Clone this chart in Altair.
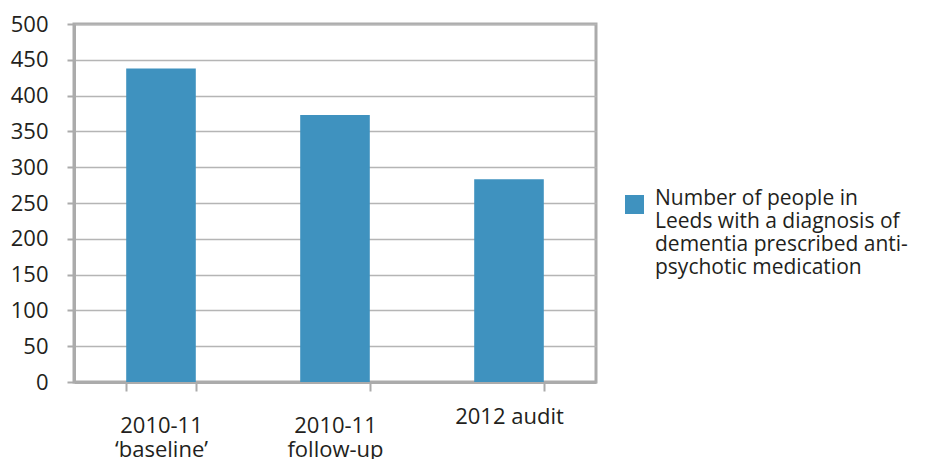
import altair as alt
import pandas as pd

categories = ["2010-11|\u2018baseline\u2019", "2010-11|follow-up", "2012 audit"]
values = [438, 373, 283]
series_name = "Number of people in|Leeds with a diagnosis of|dementia prescribed anti-|psychotic medication"

df = pd.DataFrame({"cat": categories, "val": values, "series": [series_name] * 3})

FONT = "Open Sans"
TXT = "#231F20"
GRAY = "#ABABAB"
BLUE = "#3F92BF"

bars = alt.Chart(df).mark_bar(color=BLUE).encode(
    x=alt.X(
        "cat:N",
        sort=None,
        title=None,
        scale=alt.Scale(paddingInner=0.6, paddingOuter=0.3),
        axis=alt.Axis(
            labelAngle=0,
            labelExpr="split(datum.label, '|')",
            labelBaseline="top",
            labelFont=FONT,
            labelFontSize=22,
            labelColor=TXT,
            labelLineHeight=24,
            labelPadding={"condition": {"test": "datum.label == '2012 audit'", "value": 15}, "value": 24},
            tickBand="extent",
            tickSize=9,
            tickWidth=2,
            tickColor=GRAY,
            domainColor=GRAY,
            domainWidth=3,
            grid=False,
        ),
    ),
    y=alt.Y(
        "val:Q",
        title=None,
        scale=alt.Scale(domain=[0, 500], nice=False),
        axis=alt.Axis(
            values=list(range(0, 501, 50)),
            labelFont=FONT,
            labelFontSize=22,
            labelColor=TXT,
            labelPadding=19,
            tickSize=7,
            tickWidth=2,
            tickColor=GRAY,
            domainColor=GRAY,
            domainWidth=3,
            gridColor="#B5B5B5",
            gridWidth=1.5,
        ),
    ),
    color=alt.Color(
        "series:N",
        scale=alt.Scale(range=[BLUE]),
        legend=alt.Legend(
            title=None,
            orient="none",
            legendX=550,
            legendY=170,
            padding=0,
            symbolType="square",
            symbolSize=361,
            symbolStrokeWidth=0,
            symbolOpacity=1,
            labelExpr="split(datum.label, '|')",
            labelFont=FONT,
            labelFontSize=21,
            labelColor=TXT,
            labelLimit=400,
            labelOffset=10,
            labelBaseline="alphabetic",
        ),
    ),
).properties(
    width=522,
    height=358,
    autosize=alt.AutoSizeParams(type="none"),
    padding={"left": 74, "top": 24, "right": 348, "bottom": 77},
).configure_view(
    stroke=GRAY, strokeWidth=3
)

chart = bars
chart.save("out.html", embed_options={"renderer": "svg", "actions": False})
